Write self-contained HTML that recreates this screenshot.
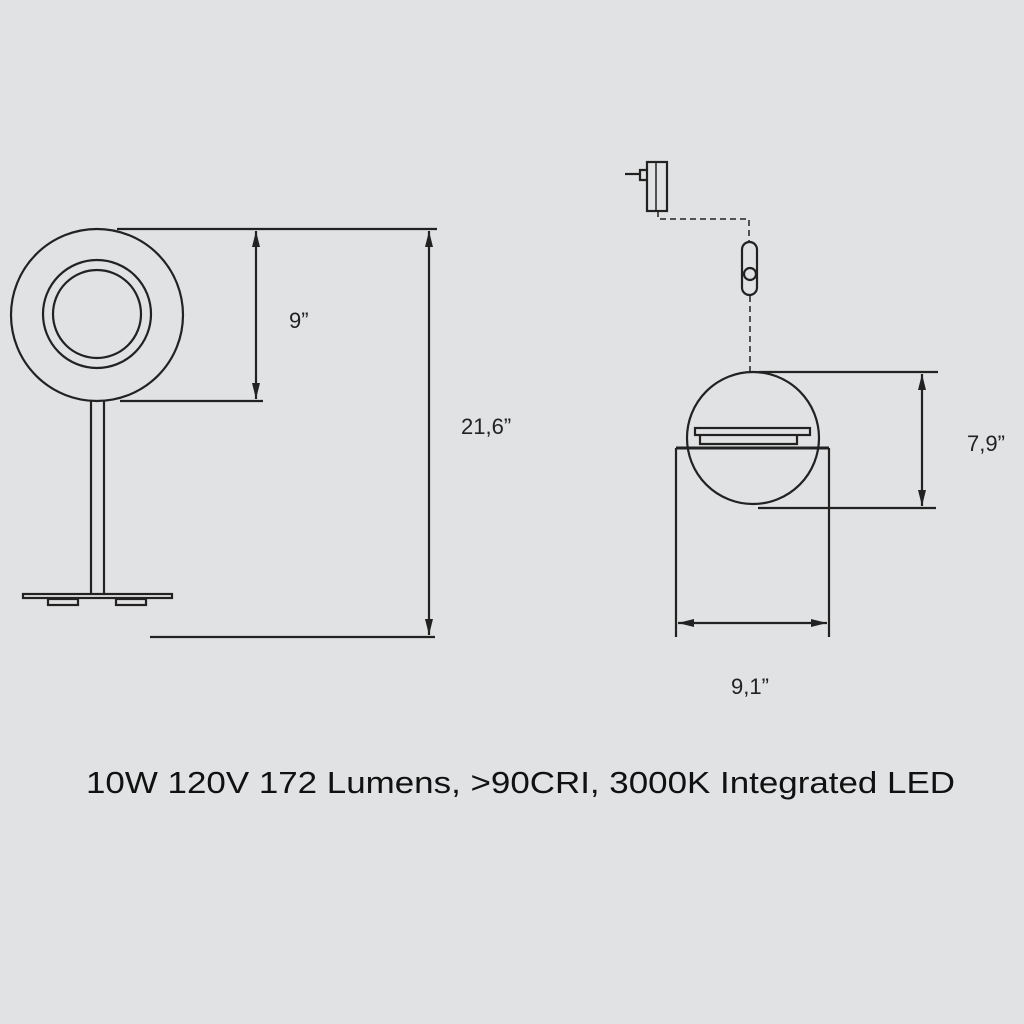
<!DOCTYPE html>
<html><head><meta charset="utf-8"><style>
html,body{margin:0;padding:0;background:#e1e2e3;}
svg{display:block}
</style></head><body>
<svg width="1024" height="1024" viewBox="0 0 1024 1024" xmlns="http://www.w3.org/2000/svg">
<rect width="1024" height="1024" fill="#e1e2e3"/>
<defs>
<marker id="a" viewBox="0 0 10 10" refX="10" refY="5" markerWidth="16" markerHeight="10" orient="auto-start-reverse" markerUnits="userSpaceOnUse" preserveAspectRatio="none"><path d="M0,1 L10,5 L0,9 z" fill="#222"/></marker>
</defs>
<g fill="none" stroke="#222" stroke-width="2.2">
<circle cx="97" cy="315" r="86"/>
<circle cx="97" cy="314" r="54"/>
<circle cx="97" cy="314" r="44"/>
<line x1="91" y1="401" x2="91" y2="594"/>
<line x1="104" y1="401" x2="104" y2="594"/>
<rect x="23" y="594" width="149" height="4"/>
<rect x="48" y="599" width="30" height="6"/>
<rect x="116" y="599" width="30" height="6"/>
<line x1="117" y1="229" x2="437" y2="229"/>
<line x1="120" y1="401" x2="263" y2="401"/>
<line x1="150" y1="637" x2="435" y2="637"/>
<line x1="256" y1="231" x2="256" y2="399" marker-start="url(#a)" marker-end="url(#a)"/>
<line x1="429" y1="231" x2="429" y2="635" marker-start="url(#a)" marker-end="url(#a)"/>
<rect x="647" y="162" width="20" height="49"/>
<line x1="656" y1="162" x2="656" y2="211" stroke-width="1.5"/>
<path d="M647,170 H640 V180 H647" />
<line x1="625" y1="174" x2="640" y2="174"/>
<path d="M658,211 V219 H749 V242" stroke-dasharray="6,4" stroke-width="1.5"/>
<rect x="742" y="242" width="15" height="53" rx="7.5"/>
<circle cx="750" cy="274" r="6"/>
<line x1="750" y1="296" x2="750" y2="372" stroke-dasharray="6,4" stroke-width="1.5"/>
<circle cx="753" cy="438" r="66"/>
<line x1="676" y1="448" x2="829" y2="448" stroke-width="3"/>
<rect x="695" y="428" width="115" height="7"/>
<path d="M700,435 V444 H797 V435"/>
<line x1="676" y1="448" x2="676" y2="637"/>
<line x1="829" y1="448" x2="829" y2="637"/>
<line x1="678" y1="623" x2="827" y2="623" marker-start="url(#a)" marker-end="url(#a)"/>
<line x1="759" y1="372" x2="938" y2="372"/>
<line x1="758" y1="508" x2="936" y2="508"/>
<line x1="922" y1="374" x2="922" y2="506" marker-start="url(#a)" marker-end="url(#a)"/>
</g>
<g font-family="'Liberation Sans', sans-serif" fill="#222">
<text x="289" y="328" font-size="22">9”</text>
<text x="461" y="434" font-size="22">21,6”</text>
<text x="967" y="451" font-size="22">7,9”</text>
<text x="731" y="694" font-size="22">9,1”</text>
<text x="86" y="793" font-size="31" fill="#111" textLength="869" lengthAdjust="spacingAndGlyphs">10W 120V 172 Lumens, &gt;90CRI, 3000K Integrated LED</text>
</g>
</svg>
</body></html>
